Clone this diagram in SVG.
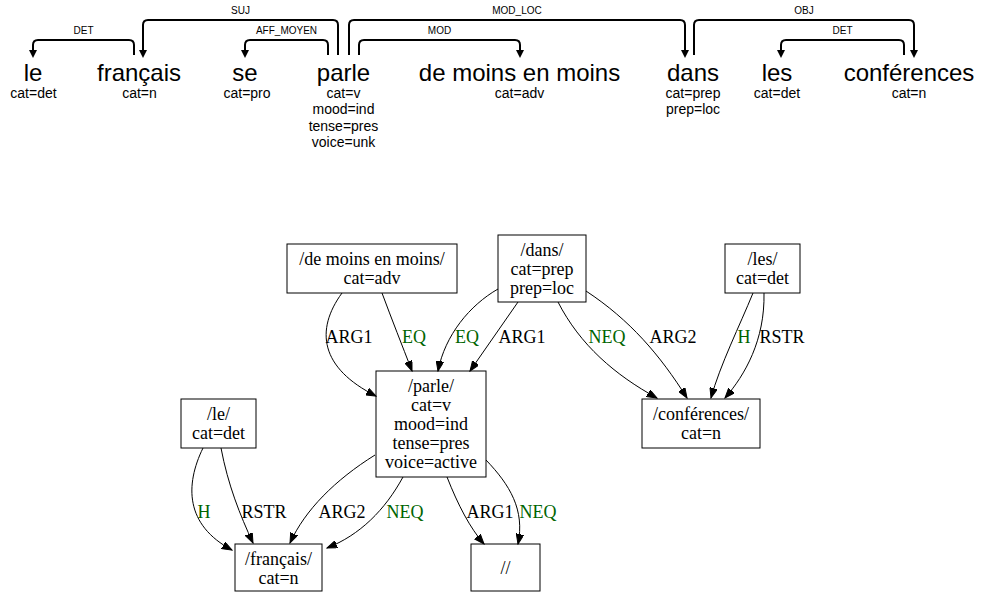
<svg xmlns="http://www.w3.org/2000/svg" width="981" height="592" viewBox="0 0 981 592">
<style>
.w{font-family:"Liberation Sans",Arial,sans-serif;font-size:24px;text-anchor:middle;fill:#000}
.f{font-family:"Liberation Sans",Arial,sans-serif;font-size:14px;text-anchor:middle;fill:#000}
.al{font-family:"Liberation Sans",Arial,sans-serif;font-size:10px;text-anchor:middle;fill:#000}
.arc{fill:none;stroke:#000;stroke-width:2}
.box{fill:#fff;stroke:#000;stroke-width:1}
.nt{font-family:"Liberation Serif","Times New Roman",serif;font-size:18px;text-anchor:middle;fill:#000}
.e{fill:none;stroke:#000;stroke-width:1}
.el{font-family:"Liberation Serif","Times New Roman",serif;font-size:18px;text-anchor:middle;fill:#000}
.g{fill:#006400}
</style>
<defs>
<marker id="ta" markerUnits="userSpaceOnUse" markerWidth="8" markerHeight="8" refX="1" refY="4" orient="auto"><path d="M0,0 L8,4 L0,8 z" fill="#000"/></marker>
<marker id="ga" markerUnits="userSpaceOnUse" markerWidth="11" markerHeight="8" refX="10" refY="3.8" orient="auto"><path d="M0,0 L10,3.8 L0,7.6 z" fill="#000" stroke="#000" stroke-width="1"/></marker>
</defs>

<!-- Dependency tree words -->
<g id="w-le"><text class="w" x="33" y="81">le</text><text class="f" x="33.5" y="97.5">cat=det</text></g>
<g id="w-francais"><text class="w" x="139" y="81">français</text><text class="f" x="139.5" y="97.5">cat=n</text></g>
<g id="w-se"><text class="w" x="245" y="81">se</text><text class="f" x="247" y="97.5">cat=pro</text></g>
<g id="w-parle"><text class="w" x="343.5" y="81">parle</text><text class="f" x="343.5" y="97.5">cat=v</text><text class="f" x="343.5" y="114">mood=ind</text><text class="f" x="343.5" y="130.5">tense=pres</text><text class="f" x="343.5" y="147">voice=unk</text></g>
<g id="w-demoins"><text class="w" x="519.5" y="81">de moins en moins</text><text class="f" x="519.5" y="97.5">cat=adv</text></g>
<g id="w-dans"><text class="w" x="693" y="81">dans</text><text class="f" x="693" y="97.5">cat=prep</text><text class="f" x="693" y="114">prep=loc</text></g>
<g id="w-les"><text class="w" x="777" y="81">les</text><text class="f" x="777" y="97.5">cat=det</text></g>
<g id="w-conferences"><text class="w" x="909" y="81">conférences</text><text class="f" x="909" y="97.5">cat=n</text></g>

<g id="dep-arcs">
<path class="arc" marker-end="url(#ta)" d="M134,55 V45 Q134,40 129,40 H38 Q33,40 33,45 V51"/>
<text class="al" x="83.5" y="34">DET</text>
<path class="arc" marker-end="url(#ta)" d="M338,55 V25 Q338,20 333,20 H148 Q143,20 143,25 V51"/>
<text class="al" x="240.5" y="14">SUJ</text>
<path class="arc" marker-end="url(#ta)" d="M328,55 V45 Q328,40 323,40 H250 Q245,40 245,45 V51"/>
<text class="al" x="286.5" y="34">AFF_MOYEN</text>
<path class="arc" marker-end="url(#ta)" d="M349,55 V25 Q349,20 354,20 H680 Q685,20 685,25 V51"/>
<text class="al" x="517" y="14">MOD_LOC</text>
<path class="arc" marker-end="url(#ta)" d="M359,55 V45 Q359,40 364,40 H515 Q520,40 520,45 V51"/>
<text class="al" x="439.5" y="34">MOD</text>
<path class="arc" marker-end="url(#ta)" d="M694,55 V25 Q694,20 699,20 H909 Q914,20 914,25 V51"/>
<text class="al" x="804" y="14">OBJ</text>
<path class="arc" marker-end="url(#ta)" d="M904,55 V45 Q904,40 899,40 H786 Q781,40 781,45 V51"/>
<text class="al" x="842.5" y="34">DET</text>
</g>

<!-- Semantic graph -->
<g id="n-demoins"><rect class="box" x="287" y="244" width="170" height="49"/><text class="nt" x="372" y="265">/de moins en moins/</text><text class="nt" x="372" y="284">cat=adv</text></g>
<g id="n-dans"><rect class="box" x="498" y="235" width="88" height="67"/><text class="nt" x="542" y="255.5">/dans/</text><text class="nt" x="542" y="274.5">cat=prep</text><text class="nt" x="542" y="293.5">prep=loc</text></g>
<g id="n-les"><rect class="box" x="725" y="244" width="75" height="49"/><text class="nt" x="762.5" y="265">/les/</text><text class="nt" x="762.5" y="284">cat=det</text></g>
<g id="n-parle"><rect class="box" x="376" y="371" width="110" height="106"/><text class="nt" x="431" y="392">/parle/</text><text class="nt" x="431" y="411">cat=v</text><text class="nt" x="431" y="430">mood=ind</text><text class="nt" x="431" y="449">tense=pres</text><text class="nt" x="431" y="468">voice=active</text></g>
<g id="n-conferences"><rect class="box" x="642" y="399" width="118" height="49"/><text class="nt" x="701" y="420">/conférences/</text><text class="nt" x="701" y="439">cat=n</text></g>
<g id="n-le"><rect class="box" x="181" y="399" width="75" height="49"/><text class="nt" x="218.5" y="420">/le/</text><text class="nt" x="218.5" y="439">cat=det</text></g>
<g id="n-francais"><rect class="box" x="235" y="544" width="87" height="47"/><text class="nt" x="278.5" y="564.5">/français/</text><text class="nt" x="278.5" y="583.5">cat=n</text></g>
<g id="n-empty"><rect class="box" x="471" y="544" width="69" height="47"/><text class="nt" x="505.5" y="574">//</text></g>

<g id="edges">
<path class="e" marker-end="url(#ga)" d="M342,293 C315,330 320,368 376,396"/>
<text class="el" x="349" y="343">ARG1</text>
<path class="e" marker-end="url(#ga)" d="M382,293 C392,320 402,345 412,371"/>
<text class="el g" x="414" y="343">EQ</text>
<path class="e" marker-end="url(#ga)" d="M498,289 C470,305 445,335 438,371"/>
<text class="el g" x="467" y="343">EQ</text>
<path class="e" marker-end="url(#ga)" d="M518,302 C502,325 486,348 470,371"/>
<text class="el" x="522" y="343">ARG1</text>
<path class="e" marker-end="url(#ga)" d="M558,302 C580,345 615,375 657,398"/>
<text class="el g" x="607" y="343">NEQ</text>
<path class="e" marker-end="url(#ga)" d="M586,291 C630,320 660,355 687,398"/>
<text class="el" x="673" y="343">ARG2</text>
<path class="e" marker-end="url(#ga)" d="M753,293 C740,325 720,365 711,398"/>
<text class="el g" x="744" y="343">H</text>
<path class="e" marker-end="url(#ga)" d="M764,293 C765,340 745,375 725,398"/>
<text class="el" x="782" y="343">RSTR</text>
<path class="e" marker-end="url(#ga)" d="M203,448 C185,485 185,525 232,550"/>
<text class="el g" x="204" y="518">H</text>
<path class="e" marker-end="url(#ga)" d="M221,448 C228,485 240,515 253,543"/>
<text class="el" x="264" y="518">RSTR</text>
<path class="e" marker-end="url(#ga)" d="M375,455 C335,480 305,510 290,543"/>
<text class="el" x="342" y="518">ARG2</text>
<path class="e" marker-end="url(#ga)" d="M403,477 C385,510 360,535 327,548"/>
<text class="el g" x="405" y="518">NEQ</text>
<path class="e" marker-end="url(#ga)" d="M447,477 C458,505 470,528 484,544"/>
<text class="el" x="490" y="518">ARG1</text>
<path class="e" marker-end="url(#ga)" d="M486,460 C510,485 525,510 518,544"/>
<text class="el g" x="538" y="518">NEQ</text>
</g>
</svg>
